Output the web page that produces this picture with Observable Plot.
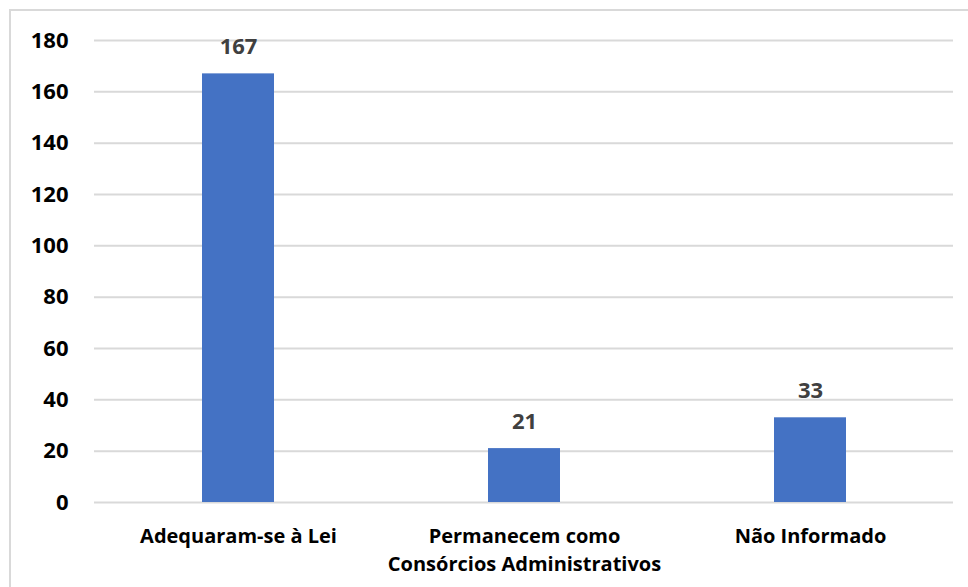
<!DOCTYPE html>
<html>
<head>
<meta charset="utf-8">
<script src="https://cdn.jsdelivr.net/npm/d3@7"></script>
<script src="https://cdn.jsdelivr.net/npm/@observablehq/plot@0.6"></script>
<style>
  html, body { margin: 0; padding: 0; background: #fff; }
  #wrap { position: relative; width: 968px; height: 587px; overflow: hidden; }
  #frame { position: absolute; left: 9px; top: 9px; width: 1000px; height: 700px;
           border: 2px solid #d9d9d9; box-sizing: border-box; }
  #chart { position: absolute; left: 0; top: 0; }
  svg { font-family: "Open Sans", sans-serif; }
</style>
</head>
<body>
<div id="wrap">
  <div id="frame"></div>
  <div id="chart"></div>
</div>
<script>
// Consórcios públicos por situação de adequação
const categories = ["Adequaram-se à Lei", "Permanecem como Consórcios Administrativos", "Não Informado"];
const values = [167, 21, 33];
const tickLabels = ["Adequaram-se à Lei", "Permanecem como\nConsórcios Administrativos", "Não Informado"];
const yTicks = [0, 20, 40, 60, 80, 100, 120, 140, 160, 180];

const data = categories.map((c, i) => ({category: c, value: values[i]}));
const labelOf = new Map(categories.map((c, i) => [c, tickLabels[i]]));

const chart = Plot.plot({
  width: 968,
  height: 587,
  marginTop: 40,
  marginBottom: 85,
  marginLeft: 94,
  marginRight: 15,
  style: {fontFamily: "'Open Sans', sans-serif", background: "transparent"},
  x: {domain: categories, paddingInner: 0.75, paddingOuter: 0.375, label: null},
  y: {domain: [0, 180], ticks: yTicks, label: null},
  marks: [
    Plot.gridY(yTicks, {stroke: "#d9d9d9", strokeOpacity: 1, strokeWidth: 2}),
    Plot.barY(data, {x: "category", y: "value", fill: "#4472c4"}),
    Plot.text(data, {x: "category", y: "value", text: d => String(d.value), dy: -27,
      fontSize: 22, fontWeight: "bold", fill: "#404040"}),
    Plot.axisY(yTicks, {tickSize: 0, tickPadding: 26, fontSize: 22, fontWeight: "bold",
      fill: "#000", label: null}),
    Plot.axisX({tickSize: 0, tickPadding: 20, fontSize: 20, fontWeight: "bold",
      fill: "#000", lineHeight: 1.42, tickFormat: d => labelOf.get(d), label: null})
  ]
});
document.getElementById("chart").appendChild(chart);
</script>
</body>
</html>
